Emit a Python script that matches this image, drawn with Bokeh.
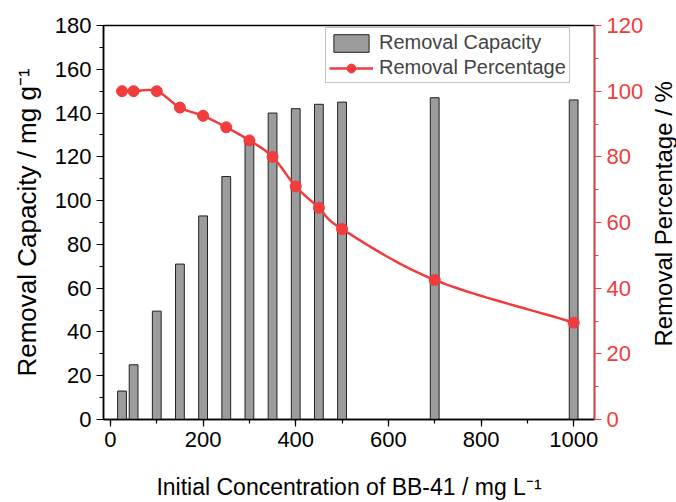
import numpy as np
from bokeh.plotting import figure
from bokeh.layouts import row
from bokeh.models import (Range1d, LinearAxis, FixedTicker, Legend, LegendItem,
                          ColumnDataSource, Label)
from bokeh.embed import file_html
from bokeh.resources import INLINE

# ---- data ----
concentration = [25, 50, 100, 150, 200, 250, 300, 350, 400, 450, 500, 700, 1000]
capacity = [13, 25, 49.5, 71, 93, 111, 128, 140, 142, 144, 145, 147, 146]
percentage = [100, 100, 100, 95, 92.5, 89, 85, 80, 71, 64.5, 58, 42.5, 29.5]

x_ticks = [0, 200, 400, 600, 800, 1000]
left_ticks = [0, 20, 40, 60, 80, 100, 120, 140, 160, 180]
right_ticks = [0, 20, 40, 60, 80, 100, 120]

RED = "#f03c3c"
FONT = "Liberation Sans"
X0, X1 = -15, 1045
SIDE_W = 26


def catmull_rom(xs, ys, n=20):
    xs = np.asarray(xs, float)
    ys = np.asarray(ys, float)
    px = np.concatenate([[2 * xs[0] - xs[1]], xs, [2 * xs[-1] - xs[-2]]])
    py = np.concatenate([[2 * ys[0] - ys[1]], ys, [2 * ys[-1] - ys[-2]]])
    ox, oy = [], []
    for i in range(1, len(px) - 2):
        t = np.linspace(0, 1, n, endpoint=False)
        for arr, out in ((px, ox), (py, oy)):
            p0, p1, p2, p3 = arr[i - 1], arr[i], arr[i + 1], arr[i + 2]
            out.extend(0.5 * ((2 * p1) + (-p0 + p2) * t
                              + (2 * p0 - 5 * p1 + 4 * p2 - p3) * t ** 2
                              + (-p0 + 3 * p1 - 3 * p2 + p3) * t ** 3))
    ox.append(xs[-1])
    oy.append(ys[-1])
    return ox, oy


p = figure(width=676 - SIDE_W, height=502, output_backend="svg", toolbar_location=None,
           x_range=Range1d(X0, X1), y_range=Range1d(0, 180),
           min_border_left=103, min_border_right=82 - SIDE_W, min_border_top=25,
           min_border_bottom=81)
p.background_fill_color = "white"
p.border_fill_color = "white"
p.outline_line_color = "black"
p.outline_line_width = 1.5
p.xgrid.visible = False
p.ygrid.visible = False

p.extra_y_ranges = {"pct": Range1d(0, 120)}

src = ColumnDataSource(dict(x=concentration, cap=capacity, pct=percentage))
bars = p.vbar(x="x", top="cap", width=19, bottom=0, source=src,
              fill_color="#9c9c9c", line_color="#222222", line_width=1)

sx, sy = catmull_rom(concentration, percentage)
line = p.line(sx, sy, line_color=RED, line_width=2.5, y_range_name="pct")
dots = p.scatter(x="x", y="pct", source=src, size=11, marker="circle",
                 fill_color=RED, line_color=RED, y_range_name="pct")


def style_axis(ax, color):
    ax.axis_line_color = color
    ax.axis_line_width = 1.5
    ax.major_tick_line_color = color
    ax.minor_tick_line_color = color
    ax.major_tick_line_width = 1.2
    ax.minor_tick_line_width = 1.2
    ax.major_tick_out = 7
    ax.major_tick_in = 0
    ax.minor_tick_out = 4
    ax.minor_tick_in = 0
    ax.major_label_standoff = 5
    ax.major_label_text_color = color
    ax.major_label_text_font = FONT
    ax.major_label_text_font_size = "22px"
    ax.axis_label_text_font = FONT
    ax.axis_label_text_font_size = "23px"
    ax.axis_label_text_font_style = "normal"
    ax.axis_label_text_color = "black"


xax = p.xaxis[0]
xax.ticker = FixedTicker(ticks=x_ticks, minor_ticks=list(range(0, 1001, 100)))
xax.axis_label = "Initial Concentration of BB-41 / mg L\u207b\u00b9"
xax.axis_label_standoff = 24
style_axis(xax, "black")

yax = p.yaxis[0]
yax.ticker = FixedTicker(ticks=left_ticks, minor_ticks=list(range(0, 181, 10)))
yax.axis_label = "Removal Capacity / mg g\u207b\u00b9"
yax.axis_label_standoff = 10
style_axis(yax, "black")
yax.axis_label_text_font_size = "26px"

rax = LinearAxis(y_range_name="pct")
rax.ticker = FixedTicker(ticks=right_ticks, minor_ticks=list(range(0, 121, 10)))
style_axis(rax, RED)
p.add_layout(rax, "right")

legend = Legend(items=[LegendItem(label="Removal Capacity", renderers=[bars]),
                       LegendItem(label="Removal Percentage", renderers=[line, dots])],
                location=(222, 336))
legend.label_text_font = FONT
legend.label_text_font_size = "20px"
legend.glyph_width = 44
legend.glyph_height = 22
legend.spacing = 2
legend.padding = 3
legend.margin = 0
legend.border_line_color = "#888888"
legend.border_line_width = 1
legend.label_standoff = 6
p.add_layout(legend)

# side strip carrying the right-axis title (reads bottom to top)
side = figure(width=SIDE_W, height=502, output_backend="svg", toolbar_location=None,
              x_range=Range1d(0, 1), y_range=Range1d(0, 502),
              x_axis_type=None, y_axis_type=None,
              min_border=0, min_border_left=0, min_border_right=0,
              min_border_top=0, min_border_bottom=0)
side.grid.visible = False
side.outline_line_color = None
side.background_fill_color = "white"
side.border_fill_color = "white"
side.add_layout(Label(x=0.5, y=262, text="Removal Percentage / %",
                      angle=np.pi / 2, text_align="center", text_baseline="middle",
                      text_font=FONT, text_font_size="24px", text_color="black"))

layout = row(p, side, spacing=0)
open("out.html", "w").write(file_html(layout, INLINE))
